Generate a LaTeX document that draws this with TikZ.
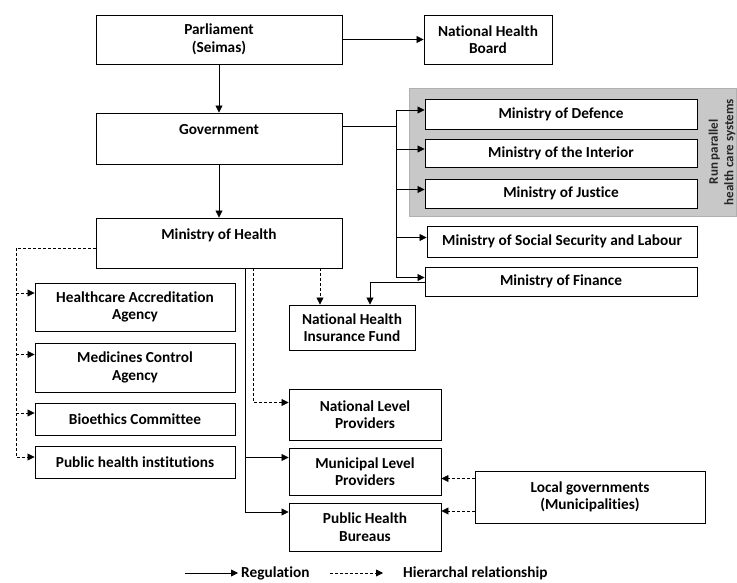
\documentclass[tikz,border=0pt]{standalone}
\usepackage{fontspec}
\setmainfont[Ligatures=CommonOff]{Carlito}
\usepackage{tikz}
\usetikzlibrary{arrows.meta,positioning}
\definecolor{boxgray}{HTML}{C8C8C8}
\definecolor{edgegray}{HTML}{B0B0B0}

\begin{document}
\begin{tikzpicture}[x=1pt,y=-1pt,>={Triangle[length=7pt,width=7pt]},
  bx/.style={draw,fill=white,line width=0.9pt,inner sep=1pt,align=center,font=\bfseries\fontsize{15.3}{17.5}\selectfont},
  reg/.style={->,line width=0.8pt},
  hier/.style={->,line width=0.8pt,dash pattern=on 3pt off 2pt}]
\useasboundingbox (0,0) rectangle (737,583);
% grey group
\fill[boxgray,draw=edgegray,line width=1pt] (409,89) rectangle (736.5,217);
\node[rotate=90,align=center,text=black!85,font=\bfseries\fontsize{13}{15.5}\selectfont] (par) at (722,152) {Run parallel\\health care systems};
% top levels
\node[bx,minimum width=246,minimum height=49] (parl) at (219,39.5) {Parliament\\(Seimas)};
\node[bx,minimum width=128,minimum height=49] (nhb) at (488,39.5) {National Health\\Board};
\node[bx,minimum width=246,minimum height=51] (gov) at (219,138.5) {Government\\~};
\node[bx,minimum width=246,minimum height=50] (moh) at (219,243) {Ministry of Health\\~};
% ministries
\node[bx,minimum width=272,minimum height=30] (mdef) at (561,114) {Ministry of Defence};
\node[bx,minimum width=272,minimum height=28] (mint) at (561,153) {Ministry of the Interior};
\node[bx,minimum width=272,minimum height=29] (mjus) at (561,193.5) {Ministry of Justice};
\node[bx,minimum width=270,minimum height=31] (msoc) at (562,241.5) {Ministry of Social Security and Labour};
\node[bx,minimum width=272,minimum height=29] (mfin) at (561,281.5) {Ministry of Finance};
\node[bx,minimum width=126,minimum height=45] (nhif) at (352,327.5) {National Health\\Insurance Fund};
% agencies
\node[bx,minimum width=200,minimum height=48] (haa) at (135,307) {Healthcare Accreditation\\Agency};
\node[bx,minimum width=200,minimum height=49] (mca) at (135,367.5) {Medicines Control\\Agency};
\node[bx,minimum width=200,minimum height=32] (bio) at (135,419) {Bioethics Committee};
\node[bx,minimum width=200,minimum height=32] (phi) at (135,462) {Public health institutions};
% providers
\node[bx,minimum width=152,minimum height=51] (nlp) at (365,414.5) {National Level\\Providers};
\node[bx,minimum width=152,minimum height=47] (mlp) at (365,471.5) {Municipal Level\\Providers};
\node[bx,minimum width=152,minimum height=48] (phb) at (365,527) {Public Health\\Bureaus};
\node[bx,minimum width=230,minimum height=52] (loc) at (590,497) {Local governments\\(Municipalities)};
\coordinate (bus) at (396,126);
\coordinate (lft) at (16,248);
\coordinate (mt) at ([xshift=26pt]moh.south);
% regulation
\draw[reg] (parl) -- (nhb);
\draw[reg] (parl) -- (gov);
\draw[reg] (gov) -- (moh);
\draw[line width=0.8pt] (gov.east |- bus) -- (bus);
\draw[line width=0.8pt] ([yshift=4pt]mdef.west -| bus) -- ([yshift=4pt]mfin.west -| bus);
\foreach \m in {mdef,mint,mjus,msoc,mfin}
  \draw[reg] ([yshift=4pt]\m.west -| bus) -- ([yshift=4pt]\m.west);
\draw[reg] ([yshift=-1pt]mfin.west) -| ([xshift=18pt]nhif.north);
\draw[reg] (mt) |- ([yshift=15pt]phb.west);
\draw[reg] ([yshift=14pt]mlp.west -| mt) -- ([yshift=14pt]mlp.west);
% hierarchy
\draw[hier] ([xshift=-32pt]nhif.north |- moh.south) -- ([xshift=-32pt]nhif.north);
\draw[hier] ([xshift=34pt]moh.south) |- ([yshift=12pt]nlp.west);
\draw[hier] ([yshift=-5pt]moh.west) -| ([yshift=5pt]phi.west -| lft) -- ([yshift=5pt]phi.west);
\draw[hier] ([yshift=14pt]haa.west -| lft) -- ([yshift=14pt]haa.west);
\draw[hier] ([yshift=13pt]mca.west -| lft) -- ([yshift=13pt]mca.west);
\draw[hier] ([yshift=6pt]bio.west -| lft) -- ([yshift=6pt]bio.west);
\draw[hier] ([yshift=-7pt]mlp.east -| loc.west) -- ([yshift=-7pt]mlp.east);
\draw[hier] ([yshift=16pt]phb.east -| loc.west) -- ([yshift=16pt]phb.east);
% legend
\node[anchor=west,font=\bfseries\fontsize{15.3}{17.5}\selectfont,inner sep=0pt] (lreg) at (241,573) {Regulation};
\node[anchor=west,font=\bfseries\fontsize{15.3}{17.5}\selectfont,inner sep=0pt] (lhier) at (403,573) {Hierarchal relationship};
\coordinate (lrs) at (185,573);
\coordinate (lhs) at (330,573);
\draw[reg] (lrs) -- ([xshift=-3pt]lreg.west);
\draw[hier] (lhs) -- ([xshift=-20pt]lhier.west);
\end{tikzpicture}
\end{document}
